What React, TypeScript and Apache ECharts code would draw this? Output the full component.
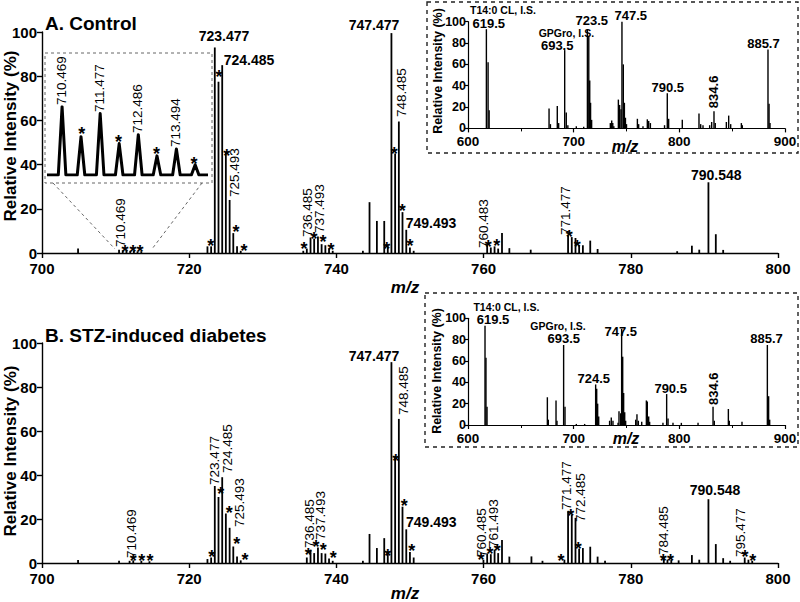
import React, { useEffect, useRef } from "react";
import * as echarts from "echarts";

// ---------- Data ----------
// Main spectrum A (Control): [m/z, relative intensity %]
const controlPeaks: [number, number][] = [
  [704.9, 2],
  [710.469, 1.5], [710.97, 1.2], [711.477, 1.5], [711.98, 1], [712.486, 1.2], [712.98, 0.8], [713.494, 0.8],
  [722.48, 3], [722.98, 3], [723.477, 93], [723.98, 77.5], [724.485, 85], [724.98, 45.5], [725.493, 24], [725.99, 9], [726.5, 3], [727.0, 1],
  [735.5, 1], [735.98, 2], [736.485, 7], [736.98, 6.5], [737.493, 7.5], [737.99, 4], [738.5, 3.5], [739.0, 2], [739.5, 1],
  [743.6, 1], [744.5, 23], [745.5, 14.5], [746.5, 14.5], [746.98, 3], [747.477, 99.5], [747.98, 45], [748.485, 59.5], [748.98, 18.5], [749.493, 10.5], [749.99, 2.5], [750.5, 1],
  [760.483, 3.5], [760.98, 2.5], [761.49, 3], [761.98, 2], [762.5, 9], [763.5, 2.2], [766.4, 1.5],
  [771.477, 8], [771.98, 7.2], [772.485, 6.8], [772.98, 3.6], [773.49, 3.5], [774.49, 5.6], [775.49, 1.8],
  [786.3, 0.8], [788.3, 3.3], [789.3, 1.5], [790.548, 32], [791.55, 8.5], [792.55, 1.4],
];

// Main spectrum B (STZ-induced diabetes)
const stzPeaks: [number, number][] = [
  [704.9, 1.4],
  [710.469, 1], [711.9, 1], [712.4, 1.2], [713.5, 1], [714.6, 0.8],
  [722.48, 1.8], [722.98, 2.5], [723.477, 35], [723.98, 30], [724.485, 39], [724.98, 22.5], [725.493, 16], [725.99, 7.5], [726.5, 3], [727.0, 1.2],
  [735.98, 2.5], [736.485, 6], [736.98, 4.5], [737.493, 7], [737.99, 4.5], [738.5, 4.3], [739.0, 2], [739.5, 1],
  [743.6, 1], [744.5, 13.2], [745.5, 6.8], [746.5, 11.3], [746.98, 5], [747.477, 91.3], [747.98, 48.7], [748.485, 65.5], [748.98, 25.6], [749.493, 15.3], [749.99, 5], [750.5, 2.5],
  [759.98, 1.5], [760.485, 4.4], [760.98, 4], [761.493, 6], [761.98, 4.5], [762.5, 10.5], [763.5, 2.9], [766.5, 3], [768, 1],
  [770.98, 1.5], [771.477, 23.5], [771.98, 22], [772.485, 20.5], [772.98, 6.5], [773.49, 6.8], [774.49, 7.4], [775.49, 2.9], [776.5, 1],
  [784.485, 2], [784.98, 1.5], [785.5, 1.5], [786.5, 1.2], [788.3, 3.6], [789.3, 1.5], [790.548, 29], [791.55, 8.6], [792.55, 2.2], [793.5, 1],
  [795.477, 2.5], [795.98, 1.5], [796.5, 1],
];

// Peak labels: [m/z, intensity, text, kind]  (h = horizontal, v = vertical)
const controlLabels: [number, number, string, string][] = [
  [724.73, 98.2, "723.477", "h"],
  [728.13, 87.3, "724.485", "h"],
  [745.1, 103.2, "747.477", "h"],
  [752.85, 13.6, "749.493", "h"],
  [791.6, 35.3, "790.548", "h"],
  [710.6, 2.7, "710.469", "v"],
  [726.22, 25.3, "725.493", "v"],
  [736.14, 7.2, "736.485", "v"],
  [737.77, 9.0, "737.493", "v"],
  [748.87, 61.5, "748.485", "v"],
  [760.05, 2.3, "760.483", "v"],
  [771.06, 8.1, "771.477", "v"],
];
const stzLabels: [number, number, string, string][] = [
  [745.1, 94.1, "747.477", "h"],
  [752.9, 18.8, "749.493", "h"],
  [791.44, 33.2, "790.548", "h"],
  [712.19, 2.3, "710.469", "v"],
  [723.5, 35.5, "723.477", "v"],
  [725.23, 40.9, "724.485", "v"],
  [726.77, 16.4, "725.493", "v"],
  [736.28, 6.8, "736.485", "v"],
  [737.87, 10.5, "737.493", "v"],
  [749.18, 67.3, "748.485", "v"],
  [759.74, 2.7, "760.485", "v"],
  [761.32, 6.8, "761.493", "v"],
  [771.29, 24.1, "771.477", "v"],
  [773.1, 18.6, "772.485", "v"],
  [784.41, 3.6, "784.485", "v"],
  [794.93, 2.7, "795.477", "v"],
];

// Asterisk marks: [m/z, intensity]
const controlStars: [number, number][] = [
  [711.28, 2.3], [712.36, 2.3], [713.32, 2.3], [722.92, 5.1], [724.05, 81.4], [725.1, 45.8], [726.36, 11.3], [727.45, 2.7],
  [735.6, 3.6], [736.96, 8.1], [738.18, 6.8], [739.27, 3.2], [746.83, 3.6], [747.87, 46.6], [748.95, 20.8], [750.0, 5.1],
  [760.64, 4.5], [761.78, 5.0], [771.64, 9.2], [772.73, 4.7],
];
const stzStars: [number, number][] = [
  [712.4, 2.9], [713.55, 2.9], [714.67, 2.9], [723.06, 4.7], [724.28, 33.2], [725.45, 24.4], [726.45, 10.5], [727.58, 3.2],
  [736.18, 5.6], [737.23, 9.1], [738.22, 7.7], [739.58, 4.1], [746.97, 5.1], [748.06, 48.3], [749.22, 27.9], [750.23, 7.4],
  [759.65, 3.4], [760.87, 5.9], [761.86, 7.1], [770.52, 2.9], [771.83, 23.3], [772.87, 8.2], [784.41, 2.9], [785.4, 2.9],
  [795.5, 4.4], [796.56, 2.9],
];

// Full-range insets (600-900), peak positions as drawn in the picture
const insetControlPeaks: [number, number][] = [
  [617.4, 93], [619, 62], [620, 17], [676.7, 18.7], [678, 4], [684.5, 21], [685.8, 5], [691.5, 73.4], [693, 15], [694.5, 3],
  [702.5, 2], [709.5, 1.5], [713, 93], [714.3, 86], [715.2, 45], [716, 24], [717, 8], [734.7, 5], [736, 7.5], [737, 5], [738, 2],
  [742.3, 27], [743.5, 22], [744.8, 18], [745.7, 100], [747, 60], [748, 24], [749, 10], [750, 4], [760.3, 9], [761.5, 4], [765.6, 2],
  [769.7, 8.5], [771, 7], [772.6, 5], [786, 3], [788.6, 33], [789.9, 9], [802.8, 8], [818.6, 14], [820.2, 4], [822.4, 3], [828.7, 3],
  [830.6, 6], [832.8, 16], [834, 5], [844.5, 6], [846.7, 12], [848.6, 4], [858.7, 5], [859.6, 3], [883.9, 74], [884.9, 23], [885.8, 5],
];
const insetStzPeaks: [number, number][] = [
  [616.1, 93], [617, 63], [618, 17], [675.1, 26], [676, 5], [683.3, 23], [684.2, 4], [690.5, 75], [691.8, 17], [702.5, 1], [710.4, 1],
  [720.8, 38], [721.8, 34], [722.7, 20], [723.7, 8], [734, 4], [735.6, 7], [737.2, 4], [742, 2], [742.9, 13], [744.5, 11],
  [745.4, 90], [746.4, 64], [747.3, 30], [748.3, 12], [749.2, 4], [758.7, 5], [759.9, 10], [761.2, 4], [764.4, 3], [768.8, 23],
  [769.7, 22], [771, 8], [771.9, 3], [784.5, 2], [788, 29], [789.3, 6], [794, 2], [801.9, 2], [817.7, 2], [831.9, 17], [833.1, 4],
  [846.4, 15], [847.3, 4], [859.3, 3], [883.3, 75], [884.5, 27], [885.5, 5],
];
const insetControlLabels: [number, number, string, string][] = [
  [633.1, 110.9, "T14:0 CL, I.S.", "s"],
  [619.6, 98.7, "619.5", "n"],
  [693.1, 89.8, "GPGro, I.S.", "s"],
  [684.4, 78.0, "693.5", "n"],
  [717.1, 101.0, "723.5", "n"],
  [754.0, 106.2, "747.5", "n"],
  [789.0, 38.7, "790.5", "n"],
  [832.5, 19.0, "834.6", "nv"],
  [879.6, 79.9, "885.7", "n"],
];
const insetStzLabels: [number, number, string, string][] = [
  [636.3, 110.9, "T14:0 CL, I.S.", "s"],
  [623.7, 99.3, "619.5", "n"],
  [685.2, 92.8, "GPGro, I.S.", "s"],
  [690.6, 81.3, "693.5", "n"],
  [744.5, 87.4, "747.5", "n"],
  [719.0, 43.8, "724.5", "n"],
  [791.8, 34.4, "790.5", "n"],
  [831.9, 18.7, "834.6", "nv"],
  [882.5, 81.3, "885.7", "n"],
];

// Expanded profile 710-714 (relative heights within the zoom box)
const profilePeaks: [number, number][] = [
  [710.469, 100], [710.97, 56], [711.477, 90], [711.98, 46], [712.486, 59], [712.98, 28], [713.494, 38], [713.99, 15],
];
const profileLabels: [number, number, string, string][] = [
  [710.46, 102.5, "710.469", "v"],
  [711.46, 92.2, "711.477", "v"],
  [712.47, 61.5, "712.486", "v"],
  [713.46, 41, "713.494", "v"],
];
const profileStars: [number, number][] = [
  [710.99, 65.9], [711.96, 53.7], [712.97, 36.6], [713.96, 22],
];

const mainXTicks = { min: 700, max: 800, interval: 20 };
const insetXTicks = { min: 600, max: 900, interval: 100 };
const yTicks = { min: 0, max: 100, interval: 20 };
const profileRange = { min: 710.07, max: 714.33 };

// ---------- Rendering ----------
const FF = '"Liberation Sans", Arial, Helvetica, sans-serif';
const LABEL_FONTS: Record<string, { font: string; rot: boolean }> = {
  h: { font: `bold 14px ${FF}`, rot: false },
  v: { font: `13.5px ${FF}`, rot: true },
  n: { font: `bold 13px ${FF}`, rot: false },
  nv: { font: `bold 13px ${FF}`, rot: true },
  s: { font: `bold 10.5px ${FF}`, rot: false },
};

function stickSeries(data: [number, number][], xi: number, yi: number, width: number) {
  return {
    type: "custom",
    xAxisIndex: xi,
    yAxisIndex: yi,
    data,
    silent: true,
    clip: false,
    renderItem: (_p: any, api: any) => {
      const x = api.value(0);
      const y = api.value(1);
      const a = api.coord([x, 0]);
      const b = api.coord([x, y]);
      return {
        type: "line",
        shape: { x1: a[0], y1: a[1], x2: b[0], y2: b[1] },
        style: { stroke: "#000", lineWidth: width },
      };
    },
  };
}

function labelSeries(labels: [number, number, string, string][], xi: number, yi: number) {
  return {
    type: "custom",
    xAxisIndex: xi,
    yAxisIndex: yi,
    data: labels.map((l) => [l[0], l[1]]),
    silent: true,
    clip: false,
    z: 5,
    renderItem: (params: any, api: any) => {
      const l = labels[params.dataIndex];
      const st = LABEL_FONTS[l[3]];
      const p = api.coord([api.value(0), api.value(1)]);
      return {
        type: "text",
        x: p[0],
        y: p[1],
        rotation: st.rot ? Math.PI / 2 : 0,
        style: {
          text: l[2],
          font: st.font,
          fill: "#000",
          align: st.rot ? "left" : "center",
          verticalAlign: "middle",
        },
      };
    },
  };
}

function starSeries(stars: [number, number][], xi: number, yi: number) {
  return {
    type: "custom",
    xAxisIndex: xi,
    yAxisIndex: yi,
    data: stars,
    silent: true,
    clip: false,
    z: 5,
    renderItem: (_p: any, api: any) => {
      const p = api.coord([api.value(0), api.value(1)]);
      return {
        type: "text",
        x: p[0],
        y: p[1] + 4,
        style: {
          text: "*",
          font: `bold 18px ${FF}`,
          fill: "#000",
          align: "center",
          verticalAlign: "middle",
        },
      };
    },
  };
}

function profileLine() {
  const pts: [number, number][] = [[profileRange.min, 0]];
  profilePeaks.forEach(([x, h]) => {
    pts.push([x - 0.1, 0], [x, h], [x + 0.1, 0]);
  });
  pts.push([profileRange.max, 0]);
  return {
    type: "line",
    xAxisIndex: 4,
    yAxisIndex: 4,
    data: pts,
    symbol: "none",
    silent: true,
    lineStyle: { color: "#000", width: 3, join: "round" },
  };
}

function mainX(gridIndex: number) {
  return {
    type: "value",
    gridIndex,
    ...mainXTicks,
    axisLine: { show: true, onZero: false, lineStyle: { color: "#000", width: 1.4 } },
    axisTick: { show: true, length: 5, lineStyle: { color: "#000", width: 1.4 } },
    axisLabel: { color: "#000", fontFamily: FF, fontWeight: "bold", fontSize: 15, margin: 8 },
    splitLine: { show: false },
  };
}
function mainY(gridIndex: number) {
  return {
    type: "value",
    gridIndex,
    ...yTicks,
    axisLine: { show: true, lineStyle: { color: "#000", width: 1.4 } },
    axisTick: { show: true, length: 5, lineStyle: { color: "#000", width: 1.4 } },
    axisLabel: { color: "#000", fontFamily: FF, fontWeight: "bold", fontSize: 15, margin: 5 },
    splitLine: { show: false },
  };
}
function insetX(gridIndex: number) {
  return {
    type: "value",
    gridIndex,
    ...insetXTicks,
    axisLine: { show: true, onZero: false, lineStyle: { color: "#000", width: 1.2 } },
    axisTick: { show: true, length: 4, lineStyle: { color: "#000", width: 1.2 } },
    minorTick: { show: true, splitNumber: 2, length: 3, lineStyle: { color: "#000", width: 1 } },
    axisLabel: { color: "#000", fontFamily: FF, fontWeight: "bold", fontSize: 13.5, margin: 6 },
    splitLine: { show: false },
  };
}
function insetY(gridIndex: number) {
  return {
    type: "value",
    gridIndex,
    ...yTicks,
    axisLine: { show: true, lineStyle: { color: "#000", width: 1.2 } },
    axisTick: { show: true, length: 3, lineStyle: { color: "#000", width: 1.2 } },
    axisLabel: { color: "#000", fontFamily: FF, fontWeight: "bold", fontSize: 12.5, margin: 2 },
    splitLine: { show: false },
  };
}

function txt(x: number, y: number, text: string, font: string, rot = 0, align = "center") {
  return {
    type: "text",
    x,
    y,
    rotation: rot,
    silent: true,
    z: 10,
    style: { text, font, fill: "#000", align, verticalAlign: "middle" },
  };
}

export default function App() {
  const ref = useRef<HTMLDivElement>(null);
  useEffect(() => {
    if (!ref.current) return;
    const chart = echarts.init(ref.current, undefined, { renderer: "svg" });
    const option: any = {
      animation: false,
      backgroundColor: "#fff",
      grid: [
        { left: 42, top: 32, width: 736, height: 221 },
        { left: 42, top: 343, width: 736, height: 220 },
        { left: 468, top: 21.7, width: 317, height: 106.7 },
        { left: 468, top: 318.3, width: 317, height: 106.7 },
        { left: 47, top: 106.7, width: 161, height: 68.3 },
      ],
      xAxis: [
        mainX(0),
        mainX(1),
        insetX(2),
        insetX(3),
        { type: "value", gridIndex: 4, ...profileRange, show: false },
      ],
      yAxis: [
        mainY(0),
        mainY(1),
        insetY(2),
        insetY(3),
        { type: "value", gridIndex: 4, min: 0, max: 100, show: false },
      ],
      series: [
        stickSeries(controlPeaks, 0, 0, 1.8),
        stickSeries(stzPeaks, 1, 1, 1.8),
        stickSeries(insetControlPeaks, 2, 2, 1.4),
        stickSeries(insetStzPeaks, 3, 3, 1.4),
        profileLine(),
        labelSeries(controlLabels, 0, 0),
        labelSeries(stzLabels, 1, 1),
        labelSeries(insetControlLabels, 2, 2),
        labelSeries(insetStzLabels, 3, 3),
        labelSeries(profileLabels, 4, 4),
        starSeries(controlStars, 0, 0),
        starSeries(stzStars, 1, 1),
        starSeries(profileStars, 4, 4),
      ],
      graphic: [
        // inset frames
        {
          type: "rect", silent: true, z: 1,
          shape: { x: 427, y: 2, width: 371, height: 151 },
          style: { fill: "transparent", stroke: "#222", lineWidth: 1.4, lineDash: [4, 4] },
        },
        {
          type: "rect", silent: true, z: 1,
          shape: { x: 425, y: 293, width: 373, height: 154 },
          style: { fill: "transparent", stroke: "#222", lineWidth: 1.4, lineDash: [4, 4] },
        },
        {
          type: "rect", silent: true, z: 1,
          shape: { x: 45, y: 53, width: 167, height: 130 },
          style: { fill: "transparent", stroke: "#666", lineWidth: 1, lineDash: [3, 3] },
        },
        {
          type: "line", silent: true, z: 1,
          shape: { x1: 53, y1: 183, x2: 115, y2: 249 },
          style: { stroke: "#666", lineWidth: 1, lineDash: [3, 3] },
        },
        {
          type: "line", silent: true, z: 1,
          shape: { x1: 202, y1: 183, x2: 152, y2: 249 },
          style: { stroke: "#666", lineWidth: 1, lineDash: [3, 3] },
        },
        // titles and axis names
        txt(45, 23, "A. Control", `bold 19px ${FF}`, 0, "left"),
        txt(45, 335, "B. STZ-induced diabetes", `bold 19px ${FF}`, 0, "left"),
        txt(10, 136, "Relative Intensity (%)", `bold 17px ${FF}`, Math.PI / 2),
        txt(10, 451, "Relative Intensity (%)", `bold 17px ${FF}`, Math.PI / 2),
        txt(405, 287, "m/z", `italic bold 17px ${FF}`),
        txt(405, 593, "m/z", `italic bold 17px ${FF}`),
        txt(438, 71, "Relative Intensity (%)", `bold 12.5px ${FF}`, Math.PI / 2),
        txt(437, 371, "Relative Intensity (%)", `bold 12.5px ${FF}`, Math.PI / 2),
        txt(625, 146, "m/z", `italic bold 16px ${FF}`),
        txt(626, 438, "m/z", `italic bold 16px ${FF}`),
      ],
    };
    chart.setOption(option);
    return () => chart.dispose();
  }, []);
  return (
    <div
      ref={ref}
      style={{ position: "fixed", left: 0, top: 0, width: 800, height: 602, background: "#fff" }}
    />
  );
}
